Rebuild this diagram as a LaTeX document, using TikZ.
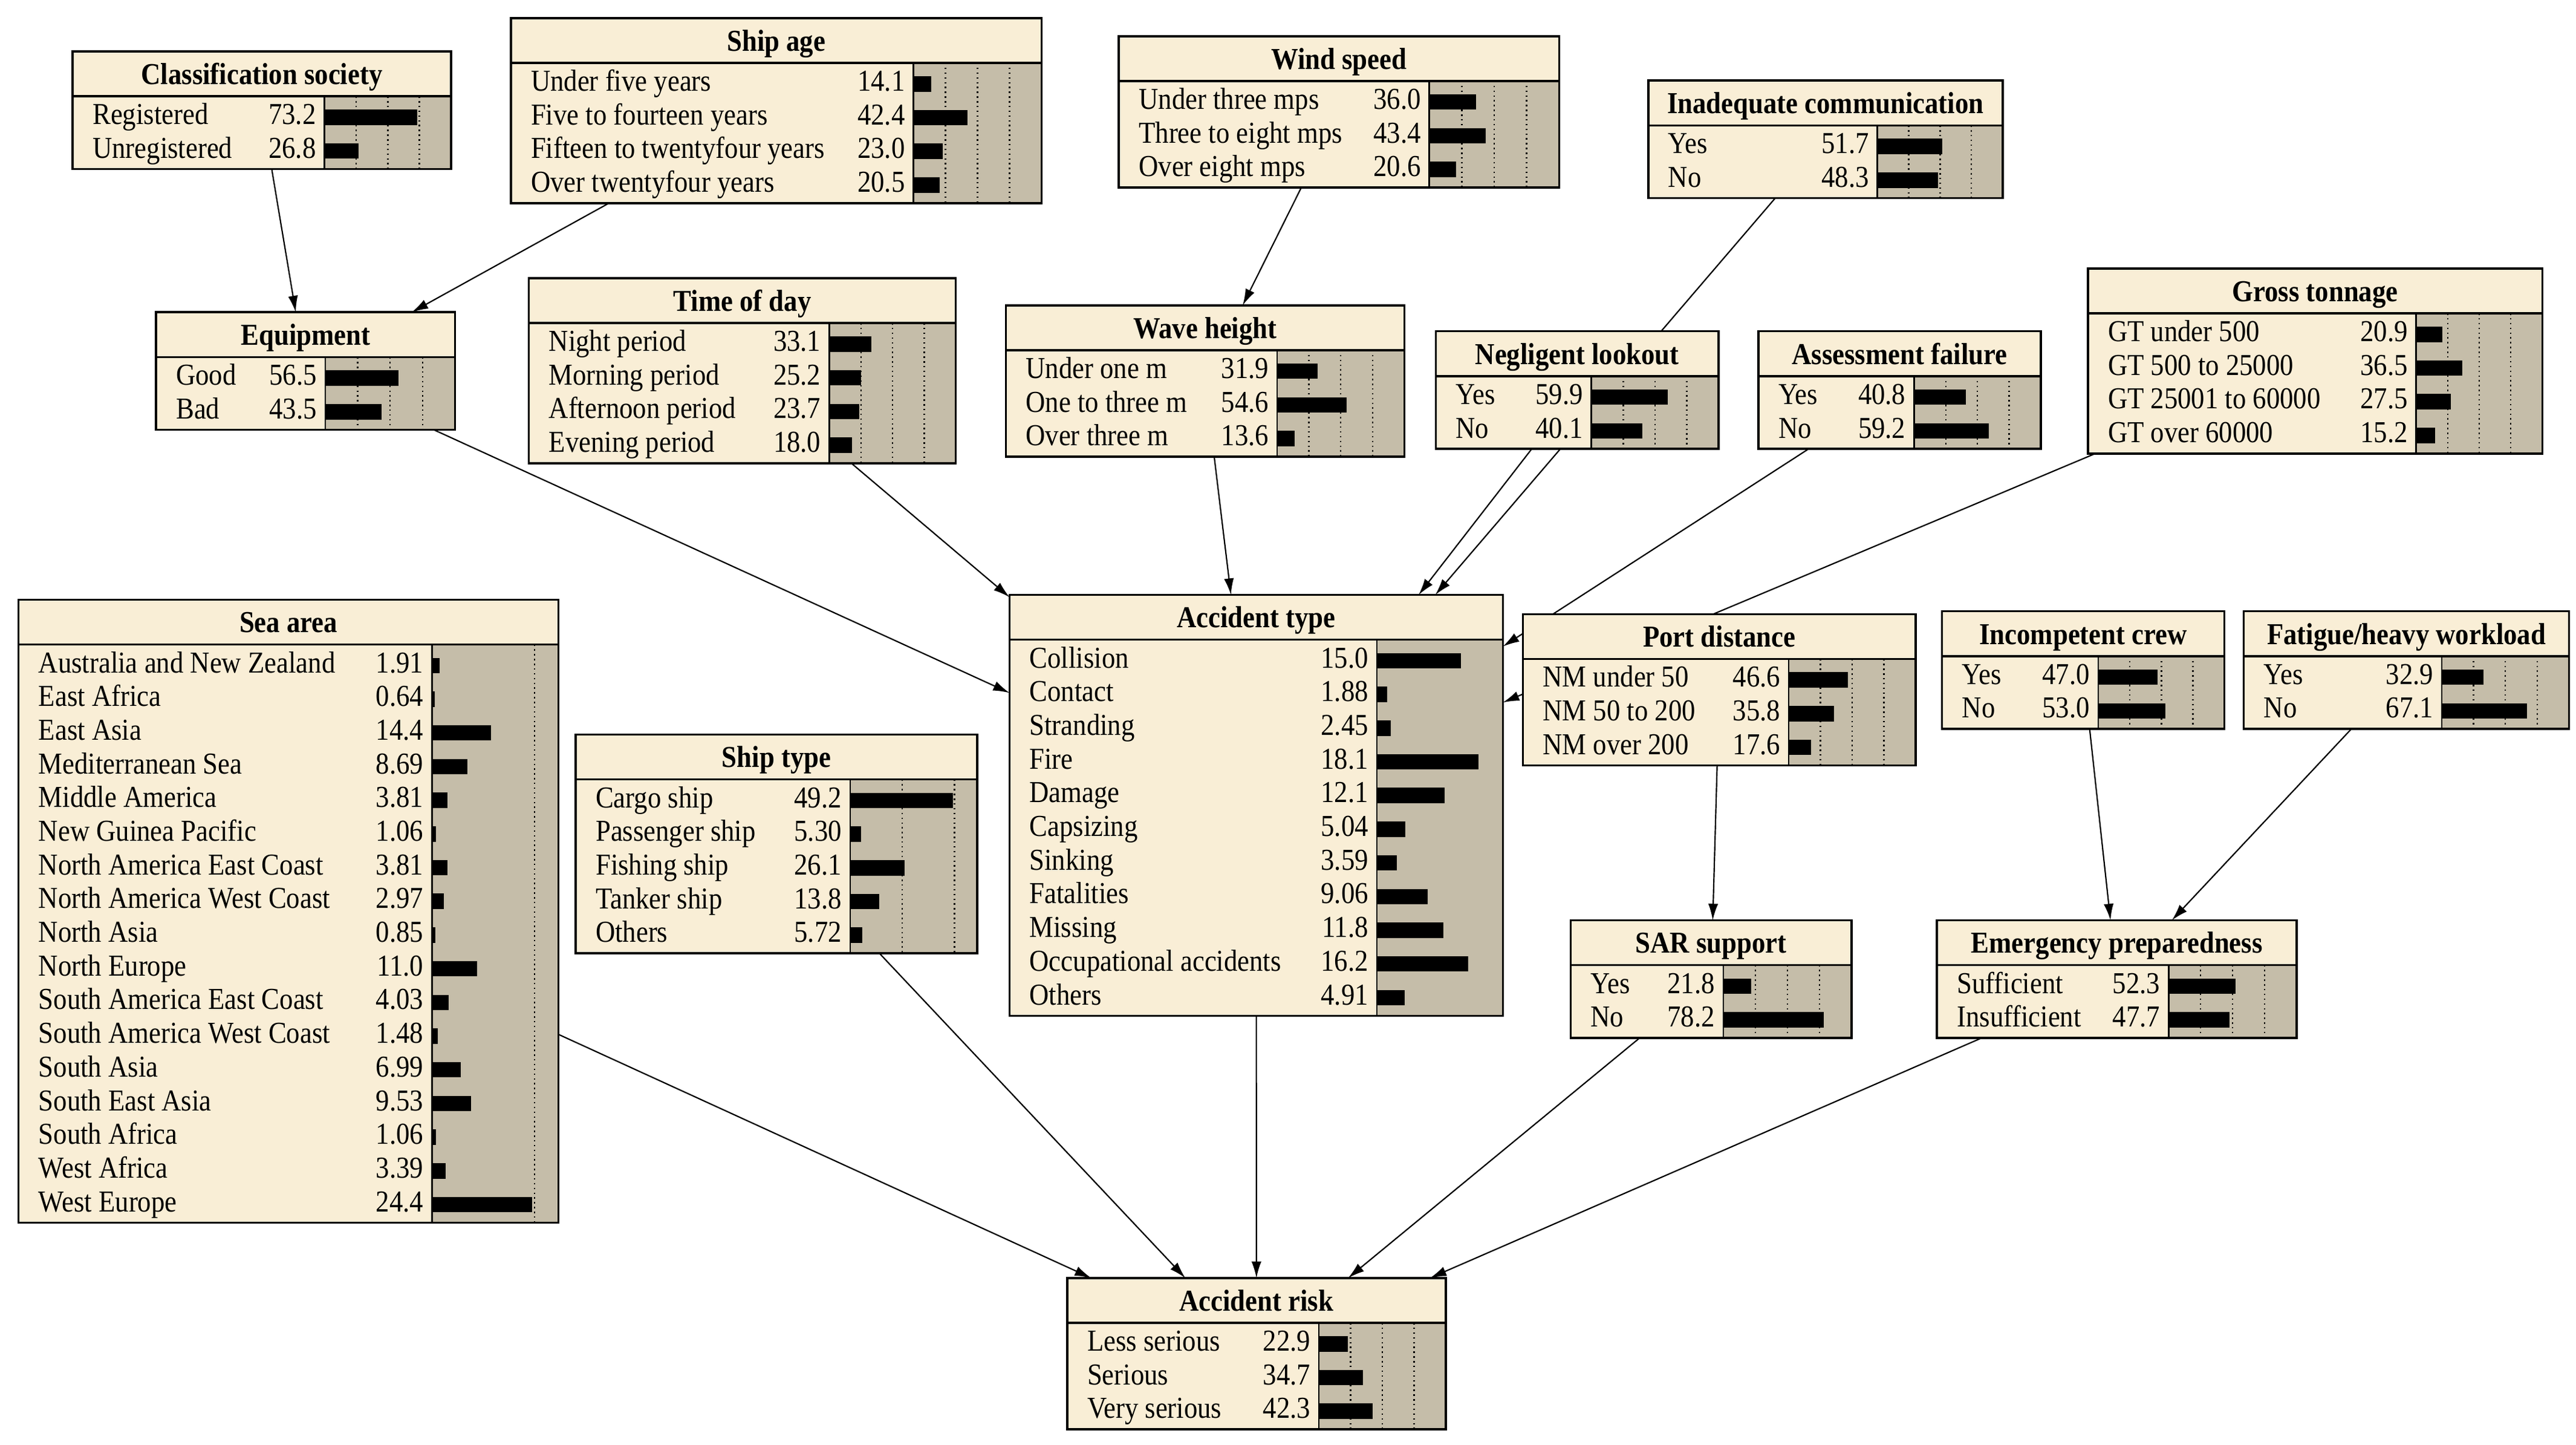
\documentclass[tikz,border=0pt]{standalone}
\usepackage{fontspec}
\setmainfont{Liberation Serif}[FakeStretch=0.89]
\usetikzlibrary{arrows.meta,backgrounds}
\definecolor{nodecream}{RGB}{249,238,214}
\definecolor{bartan}{RGB}{197,189,169}

\tikzset{
  netnode/.style={rectangle,fill=nodecream,inner sep=0pt,outer sep=0pt},
  boxline/.style={line width=1.3pt},
  bararea/.style={fill=bartan},
  gridline/.style={dotted,line width=0.9pt},
  titletext/.style={anchor=base,inner sep=0pt,font=\fontsize{18.5}{20}\selectfont\bfseries},
  statetext/.style={anchor=base west,inner sep=0pt,font=\fontsize{18.5}{20}\selectfont},
  valtext/.style={anchor=base east,inner sep=0pt,font=\fontsize{18.5}{20}\selectfont},
  bnlink/.style={line width=0.8pt,-{Latex[length=10pt,width=6pt]}}
}

% #1 name, #2 left, #3 top, #4 right, #5 bar start, #6 px per percent, #7 title, #8 states
\newcommand{\bnnode}[8]{%
  \foreach \s [count=\n] in {#8} {\xdef\bnrows{\n}}%
  \pgfmathsetmacro\bnbot{#3+30.6+20.5*\bnrows}%
  \pgfmathsetmacro\bnsep{#3+27.3}%
  \node[netnode,minimum width={(#4-#2)*1pt},minimum height={(\bnbot-#3)*1pt}] (#1) at ({(#2+#4)/2},{(#3+\bnbot)/2}) {};
  \fill[bararea] (#5,\bnsep) rectangle (#4,\bnbot);
  \foreach \p in {25,50,75} {
    \pgfmathsetmacro\xd{#5+#6*\p}
    \pgfmathtruncatemacro\ok{\xd<#4-1}
    \ifnum\ok=1 \draw[gridline] (\xd,\bnsep) -- (\xd,\bnbot); \fi
  }
  \foreach \lab/\val [count=\i from 0] in {#8} {
    \pgfmathsetmacro\ry{\bnsep+12.8+20.5*\i}
    \node[statetext] at ({#2+12},{\ry+4.3}) {\lab};
    \node[valtext] at ({#5-5},{\ry+4.3}) {\val};
    \fill ({#5},{\ry-4.7}) rectangle ({#5+#6*\val},{\ry+4.7});
  }
  \node[titletext] at ({(#2+#4)/2},{#3+20}) {#7};
  \draw[boxline] (#2,\bnsep) -- (#4,\bnsep);
  \draw[line width=1pt] (#5,\bnsep) -- (#5,\bnbot);
  \draw[boxline] (#1.north west) rectangle (#1.south east);
}

\begin{document}
\begin{tikzpicture}[x=1pt,y=-1pt]
\useasboundingbox (0,0) rectangle (1568,879.3);

% top row
\bnnode{csoc}{44.2}{31.3}{274.6}{197.5}{0.771}{Classification society}{Registered/73.2, Unregistered/26.8}
\bnnode{shipage}{311}{11}{634}{556}{0.78}{Ship age}{Under five years/14.1, Five to fourteen years/42.4, Fifteen to twentyfour years/23.0, Over twentyfour years/20.5}
\bnnode{wind}{681}{22}{949}{870}{0.79}{Wind speed}{Under three mps/36.0, Three to eight mps/43.4, Over eight mps/20.6}
\bnnode{comm}{1003.3}{49}{1219}{1142.8}{0.762}{Inadequate communication}{Yes/51.7, No/48.3}

% second row
\bnnode{equip}{95}{190}{277}{198}{0.79}{Equipment}{Good/56.5, Bad/43.5}
\bnnode{tod}{321.9}{169.3}{581.8}{504.8}{0.77}{Time of day}{Night period/33.1, Morning period/25.2, Afternoon period/23.7, Evening period/18.0}
\bnnode{wave}{612.2}{185.8}{854.8}{777.4}{0.774}{Wave height}{Under one m/31.9, One to three m/54.6, Over three m/13.6}
\bnnode{lookout}{874}{201.6}{1046}{968.7}{0.773}{Negligent lookout}{Yes/59.9, No/40.1}
\bnnode{assess}{1070.3}{201.6}{1242.2}{1165.1}{0.771}{Assessment failure}{Yes/40.8, No/59.2}
\bnnode{gt}{1270.9}{163.4}{1547.5}{1470.7}{0.768}{Gross tonnage}{GT under 500/20.9, GT 500 to 25000/36.5, GT 25001 to 60000/27.5, GT over 60000/15.2}

% middle
\bnnode{sea}{11.3}{364.9}{339.9}{262.9}{2.5}{Sea area}{Australia and New Zealand/1.91, East Africa/0.64, East Asia/14.4, Mediterranean Sea/8.69, Middle America/3.81, New Guinea Pacific/1.06, North America East Coast/3.81, North America West Coast/2.97, North Asia/0.85, North Europe/11.0, South America East Coast/4.03, South America West Coast/1.48, South Asia/6.99, South East Asia/9.53, South Africa/1.06, West Africa/3.39, West Europe/24.4}
\bnnode{shiptype}{350.4}{447}{594.8}{517.5}{1.27}{Ship type}{Cargo ship/49.2, Passenger ship/5.30, Fishing ship/26.1, Tanker ship/13.8, Others/5.72}
\bnnode{acctype}{614.5}{362}{914.8}{838.1}{3.42}{Accident type}{Collision/15.0, Contact/1.88, Stranding/2.45, Fire/18.1, Damage/12.1, Capsizing/5.04, Sinking/3.59, Fatalities/9.06, Missing/11.8, Occupational accidents/16.2, Others/4.91}
\bnnode{port}{927}{373.7}{1166}{1088.8}{0.772}{Port distance}{NM under 50/46.6, NM 50 to 200/35.8, NM over 200/17.6}
\bnnode{crew}{1182.1}{372}{1354}{1277.2}{0.768}{Incompetent crew}{Yes/47.0, No/53.0}
\bnnode{fatigue}{1365.8}{372}{1563.7}{1486.3}{0.774}{Fatigue/heavy workload}{Yes/32.9, No/67.1}
\bnnode{sar}{956}{560}{1127}{1049}{0.78}{SAR support}{Yes/21.8, No/78.2}
\bnnode{emerg}{1179}{560}{1398}{1320}{0.78}{Emergency preparedness}{Sufficient/52.3, Insufficient/47.7}

% bottom
\bnnode{risk}{649.6}{777.7}{880}{802.8}{0.772}{Accident risk}{Less serious/22.9, Serious/34.7, Very serious/42.3}

% links (behind the boxes)
\begin{scope}[on background layer]
  \draw[bnlink] (csoc) -- (equip);
  \draw[bnlink] (shipage) -- (equip);
  \draw[bnlink] (wind) -- (wave);
  \draw[bnlink] (equip) -- (acctype);
  \draw[bnlink] (tod) -- (acctype);
  \draw[bnlink] (wave) -- (acctype);
  \draw[bnlink] (comm) -- (acctype);
  \draw[bnlink] (lookout) -- (acctype);
  \draw[bnlink] (assess) -- (acctype);
  \draw[bnlink] (gt) -- (acctype);
  \draw[bnlink] (port) -- (sar);
  \draw[bnlink] (crew) -- (emerg);
  \draw[bnlink] (fatigue) -- (emerg);
  \draw[bnlink] (sea) -- (risk);
  \draw[bnlink] (shiptype) -- (risk);
  \draw[bnlink] (acctype) -- (risk);
  \draw[bnlink] (sar) -- (risk);
  \draw[bnlink] (emerg) -- (risk);
\end{scope}
\end{tikzpicture}
\end{document}
